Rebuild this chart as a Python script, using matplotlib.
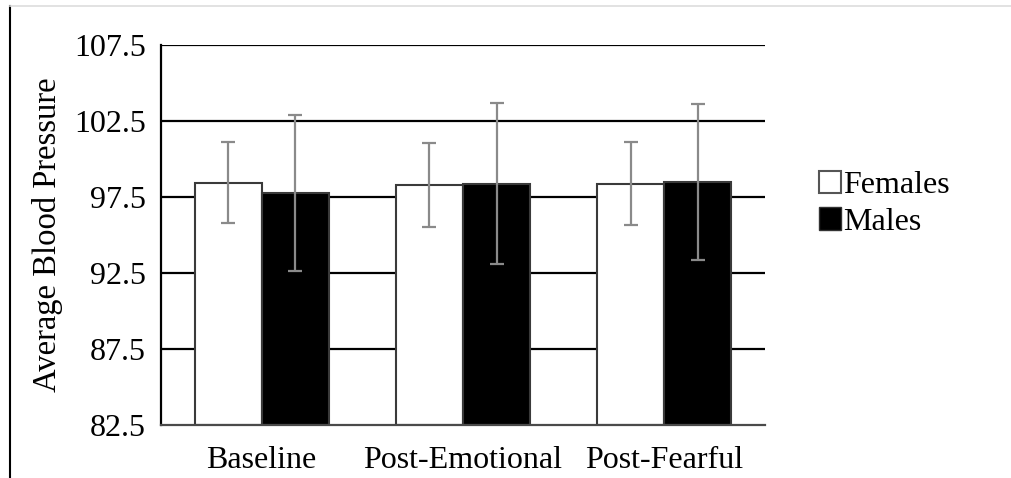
import matplotlib
matplotlib.use("Agg")
import matplotlib.pyplot as plt
from matplotlib.patches import Patch
from matplotlib.lines import Line2D
import numpy as np

plt.rcParams['font.family'] = ['Liberation Serif', 'DejaVu Serif']

# data
conditions = ["Baseline", "Post-Emotional", "Post-Fearful"]
females = [98.45, 98.3, 98.38]
females_err = [2.67, 2.77, 2.72]
males = [97.75, 98.37, 98.5]
males_err = [5.12, 5.29, 5.15]
yticks = [82.5, 87.5, 92.5, 97.5, 102.5, 107.5]

fig = plt.figure(figsize=(10.12, 4.78), dpi=100)
ax = fig.add_axes([0.1591, 0.1109, 0.5968, 0.795])

x = np.arange(len(conditions))
w = 1 / 3
base = yticks[0]

# horizontal grid lines behind the bars
for t in yticks[1:]:
    ax.axhline(t, color="black", linewidth=1.6, zorder=1)

err_style = dict(ecolor="#8a8a8a", elinewidth=1.6, capsize=5, capthick=1.6)
ax.bar(x - w / 2, np.array(females) - base, w, bottom=base, color="white",
       edgecolor="#3a3a3a", linewidth=1.5, zorder=2,
       yerr=females_err, error_kw=err_style)
ax.bar(x + w / 2, np.array(males) - base, w, bottom=base, color="black",
       edgecolor="#3a3a3a", linewidth=1.5, zorder=2,
       yerr=males_err, error_kw=err_style)

ax.set_xlim(-0.5, 2.5)
ax.set_ylim(82.5, 107.5)
ax.set_yticks(yticks)
ax.set_yticklabels([str(t) for t in yticks], fontsize=23)
ax.set_xticks(x)
ax.set_xticklabels(conditions, fontsize=23)
ax.tick_params(length=0, pad=11)
ax.tick_params(axis="x", pad=15)
ax.set_ylabel("Average Blood Pressure", fontsize=23.5, labelpad=8)

ax.spines["right"].set_visible(False)
ax.spines["top"].set_visible(False)
ax.spines["left"].set_color("black")
ax.spines["left"].set_linewidth(1.6)
ax.spines["bottom"].set_color("#4a4a4a")
ax.spines["bottom"].set_linewidth(1.6)

handles = [Patch(facecolor="white", edgecolor="#555555", linewidth=1.5, label="Females"),
           Patch(facecolor="black", edgecolor="#333333", linewidth=1.0, label="Males")]
fig.legend(handles=handles, loc="center left", bbox_to_anchor=(0.781, 0.574),
           frameon=False, fontsize=23, handlelength=0.7, handleheight=0.7,
           handletextpad=0.05, labelspacing=0.22)

# page border lines from the source document
fig.add_artist(Line2D([0.0099, 0.0099], [0.0, 0.988], color="black", linewidth=1.5))
fig.add_artist(Line2D([0.0099, 1.0], [0.988, 0.988], color="#dddddd", linewidth=1.2))

fig.savefig("out.png", dpi=100)
